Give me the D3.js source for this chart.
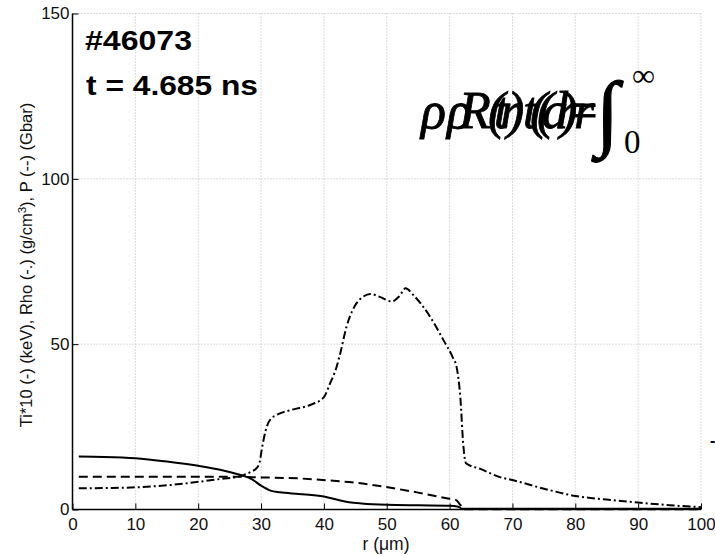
<!DOCTYPE html>
<html>
<head>
<meta charset="utf-8">
<script src="https://cdn.jsdelivr.net/npm/d3@7"></script>
<style>
  html, body { margin: 0; padding: 0; background: #fff; }
  svg { display: block; }
</style>
</head>
<body>
<svg id="chart" width="715" height="556"></svg>
<script>
// Radial profiles at t = 4.685 ns, shot #46073
const xTicks = [0, 10, 20, 30, 40, 50, 60, 70, 80, 90, 100];
const yTicks = [0, 50, 100, 150];

// Ion temperature x10 (keV), solid
const tiR = [1, 5, 10, 15, 20, 24, 27, 28.5, 30, 31.5, 33, 36, 40, 42, 44, 46, 50, 55, 60, 61.4, 62, 65, 70, 80, 90, 100];
const tiV = [16.0, 15.9, 15.5, 14.5, 13.2, 11.8, 10.3, 9.2, 7.2, 5.7, 5.2, 4.7, 3.9, 3.0, 2.2, 1.8, 1.4, 1.25, 1.15, 0.85, 0.2, 0.2, 0.2, 0.2, 0.2, 0.2];

// Density (g/cm^3), dashed
const rhoR = [1, 10, 20, 26, 30, 36, 42, 44, 49.5, 55, 59.5, 61, 61.7, 62.2, 70, 80, 90, 100];
const rhoV = [9.9, 9.9, 9.9, 9.9, 9.7, 9.4, 8.6, 8.3, 6.9, 5.1, 3.4, 2.9, 1.4, 0.1, 0.1, 0.1, 0.1, 0.1];

// Pressure (Gbar), dash-dot
const pR = [1, 5, 10, 15, 18, 23, 26.7, 28.5, 29.3, 29.8, 30.1, 30.5, 30.9, 31.5, 32.5, 35, 37.8, 40, 41, 42, 42.6, 43.6, 44.5, 45.2, 46.2, 47.4, 48.9, 50.8, 52, 53, 54.2, 56.9, 59, 60.5, 61.1, 61.7, 62.2, 62.6, 65, 68, 70, 75, 80, 85, 90, 95, 100];
const pV = [6.4, 6.5, 6.7, 7.3, 7.9, 9.1, 10.1, 11.5, 12.5, 14.5, 18, 22, 25, 27.3, 28.6, 30.2, 31.6, 34.0, 38.2, 43, 47.2, 55.3, 60, 62.4, 64.3, 65.2, 64.3, 62.9, 64.5, 66.9, 64.9, 58.3, 51.3, 46, 43.2, 34.1, 19, 14, 12.2, 9.8, 8.9, 6.3, 4.1, 3.0, 2.1, 1.3, 0.7];

const svg = d3.select("#chart");
const x = d3.scaleLinear().domain([0, 100]).range([72.5, 701]);
const y = d3.scaleLinear().domain([0, 150]).range([509.5, 13.5]);
const tickFont = "'Liberation Sans', Arial, Helvetica, sans-serif";

// dotted grid
const grid = svg.append("g").attr("stroke", "#b8b8b8").attr("stroke-width", 1).attr("stroke-dasharray", "1,2");
grid.selectAll("line.v").data(xTicks.slice(1)).join("line")
  .attr("x1", d => x(d)).attr("x2", d => x(d))
  .attr("y1", y(0)).attr("y2", y(150));
grid.selectAll("line.h").data(yTicks.slice(1)).join("line")
  .attr("x1", x(0)).attr("x2", x(100))
  .attr("y1", d => y(d)).attr("y2", d => y(d));

// profile curves
const mk = (rs, vs) => rs.map((r, i) => [r, vs[i]]);
const line = d3.line().x(d => x(d[0])).y(d => y(d[1])).curve(d3.curveMonotoneX);
const curves = svg.append("g").attr("fill", "none").attr("stroke", "#000").attr("stroke-width", 2);
curves.append("path").datum(mk(pR, pV)).attr("d", line).attr("stroke-dasharray", "8,3,2,3");
curves.append("path").datum(mk(rhoR, rhoV)).attr("d", line).attr("stroke-dasharray", "9,5");
curves.append("path").datum(mk(tiR, tiV)).attr("d", line);

// axes
const xAxis = d3.axisBottom(x).tickValues(xTicks).tickSize(-6).tickPadding(8);
const gx = svg.append("g").attr("transform", `translate(0,${y(0)})`).call(xAxis);
gx.select(".domain").attr("stroke", "#000").attr("stroke-width", 1.5).attr("d", `M${x(0)},0H${x(100)}`);
gx.selectAll(".tick line").attr("stroke", "#000");
gx.selectAll(".tick text").attr("font-family", tickFont).attr("font-size", 17).attr("fill", "#111");

const yAxis = d3.axisLeft(y).tickValues(yTicks).tickSize(-6).tickPadding(3);
const gy = svg.append("g").attr("transform", `translate(${x(0)},0)`).call(yAxis);
gy.select(".domain").attr("stroke", "#000").attr("stroke-width", 1.5).attr("d", `M0,${y(0)}V${y(150)}`);
gy.selectAll(".tick line").attr("stroke", "#000");
gy.selectAll(".tick text").attr("font-family", tickFont).attr("font-size", 17).attr("fill", "#111");

// axis titles
svg.append("text").attr("x", 386).attr("y", 550).attr("text-anchor", "middle")
  .attr("font-family", tickFont).attr("font-size", 17.5).attr("fill", "#111")
  .text("r (\u03bcm)");

const yl = svg.append("text").attr("transform", "translate(32,265) rotate(-90)")
  .attr("text-anchor", "middle").attr("font-family", tickFont).attr("font-size", 16.5).attr("fill", "#111");
yl.append("tspan").text("Ti*10 (-) (keV), Rho (-.) (g/cm");
yl.append("tspan").attr("dy", -6).attr("font-size", 11.5).text("3");
yl.append("tspan").attr("dy", 6).text("), P (--) (Gbar)");

// shot / time labels
svg.append("text").attr("x", 85).attr("y", 50).attr("font-family", tickFont).attr("font-weight", "bold")
  .attr("font-size", 28).attr("textLength", 107).attr("lengthAdjust", "spacingAndGlyphs").text("#46073");
svg.append("text").attr("x", 86).attr("y", 95).attr("font-family", tickFont).attr("font-weight", "bold")
  .attr("font-size", 28).attr("textLength", 172).attr("lengthAdjust", "spacingAndGlyphs").text("t = 4.685 ns");

// areal density formula (overprinted glyphs)
const serif = "'Liberation Serif', 'Times New Roman', serif";
const glyphs = [
  ["\u03c1", 421], ["\u03c1", 447], ["R", 459], ["(", 488], ["t", 494], ["r", 500], [")", 507],
  ["t", 523], ["(", 530], ["(", 537], ["d", 542], ["r", 556], [")", 560], ["=", 565], ["r", 574]
];
const fg = svg.append("g").attr("font-family", serif).attr("font-style", "italic")
  .attr("fill", "#000").attr("stroke", "#000").attr("stroke-width", 0.8);
fg.selectAll("text").data(glyphs).join("text")
  .attr("x", d => d[1]).attr("y", 128).attr("font-size", 52).text(d => d[0]);
svg.append("text").attr("x", 596).attr("y", 140).attr("font-family", serif).attr("font-size", 84)
  .attr("stroke", "#000").attr("stroke-width", 1.2).text("\u222b");
svg.append("text").attr("x", 632).attr("y", 86).attr("font-family", serif).attr("font-size", 32).text("\u221e");
svg.append("text").attr("x", 624).attr("y", 153).attr("font-family", serif).attr("font-size", 33).text("0");

// stray mark at right edge
svg.append("text").attr("x", 710).attr("y", 446).attr("font-family", tickFont).attr("font-weight", "bold")
  .attr("font-size", 16).text("-");
</script>
</body>
</html>
